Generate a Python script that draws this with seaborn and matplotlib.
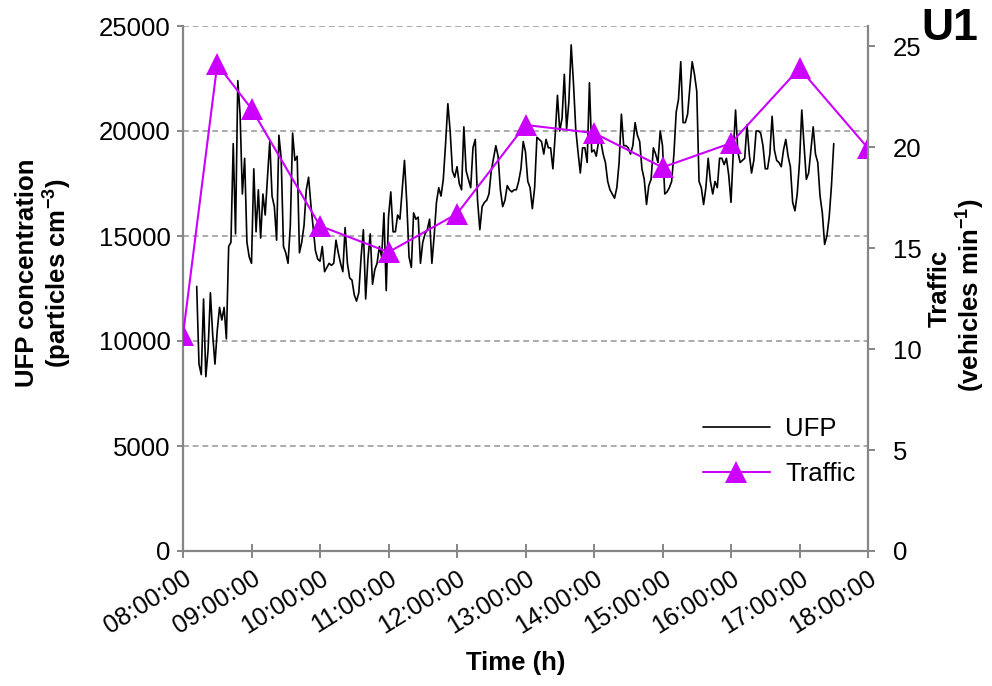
import numpy as np
import pandas as pd
import matplotlib
matplotlib.use('Agg')
import matplotlib.pyplot as plt
import seaborn as sns

sns.set_style('white')
plt.rcParams['font.family'] = ['Liberation Sans', 'DejaVu Sans']
plt.rcParams['mathtext.fontset'] = 'custom'
plt.rcParams['mathtext.rm'] = 'Liberation Sans'
plt.rcParams['mathtext.bf'] = 'Liberation Sans:bold'
plt.rcParams['text.color'] = 'black'
plt.rcParams['xtick.labelcolor'] = 'black'
plt.rcParams['ytick.labelcolor'] = 'black'

# UFP readings every 2 minutes, starting 08:12
ufp_start_min = 12
ufp_step_min = 2
ufp = [
    12600, 8900, 8400, 12000, 8300, 9600, 12300, 10300, 8900, 10500,
    11600, 11000, 11600, 10100, 14500, 14700, 19400, 15100, 22400, 20800,
    17000, 18700, 14700, 14000, 13700, 18200, 15200, 17200, 14900, 17000,
    16000, 17800, 19500, 16900, 16400, 14800, 19800, 18700, 14500, 14200,
    13700, 15500, 19900, 18600, 18800, 14200,
    14700, 15500, 17200, 17800, 16500, 15400, 14300, 13900, 13800, 14500,
    13300, 13500, 13700, 13600, 13700, 14800, 14200, 13700, 13300, 15400,
    13700, 13000, 12900, 12200, 11900, 12300, 14000, 15300, 12000, 13900,
    15100, 12700, 13400, 13700, 14500, 14000, 16100, 12400, 15900, 17100,
    15200, 15200, 16000, 15800, 17200, 18600, 16600, 14000,
    13500, 16100, 15800, 15900, 13700, 14700, 15100, 15300, 15800, 13700,
    15000, 16600, 17300, 16900, 17700, 19400, 21300, 20000, 18100, 17800,
    18300, 17500, 17200, 20200, 18100, 17700, 17300, 19200, 19600, 16700,
    15300, 16400, 16600, 16700, 17000, 18100, 18700, 19300, 18800, 17200,
    16400, 16700, 17400, 17200, 17100, 17200, 17200, 17600,
    18200, 19500, 19000, 17600, 17300, 16300, 17300, 19700, 19600, 19500,
    18900, 19600, 19200, 19200, 18200, 19800, 21700, 20000, 20600, 22700,
    20100, 21400, 24100, 22300, 20100, 19000, 18000, 19200, 19200, 18500,
    22300, 19000, 19100, 18800, 19500, 19500, 18900, 18500, 17600, 17200,
    17000, 16800, 17300, 18500, 20800, 19300, 19300, 19200,
    18900, 19300, 20400, 19800, 19500, 18200, 17700, 16500, 17400, 17700,
    19200, 18900, 18500, 20000, 19300, 17000, 17100, 17300, 17600, 18900,
    20900, 21500, 23300, 20400, 20400, 20800, 22100, 23300, 22700, 21900,
    17600, 17300, 16500, 17300, 18700, 17600, 17000, 17600, 17300, 18700,
    18700, 18400, 18700, 17900, 16600, 19000, 21000, 19000,
    18500, 18600, 18700, 20300, 18900, 18000, 18600, 20000, 20000, 19900,
    19300, 18200, 18200, 18900, 20700, 19100, 18600, 18500, 18300, 19100,
    19600, 18800, 18300, 16600, 16200, 17000, 18500, 21000, 19300, 17700,
    18000, 19100, 20200, 18900, 18500, 16900, 16100, 14600, 15000, 15900,
    17400, 19400,
]

# traffic counts (vehicles per minute)
traffic_min = [0, 30, 60, 120, 180, 240, 300, 360, 420, 480, 540, 600]
traffic = [10.7, 24.1, 21.9, 16.1, 14.8, 16.7, 21.1, 20.7, 19.0, 20.2, 23.9, 19.95]

hour_labels = ['08:00:00', '09:00:00', '10:00:00', '11:00:00', '12:00:00',
               '13:00:00', '14:00:00', '15:00:00', '16:00:00', '17:00:00',
               '18:00:00']

ufp_df = pd.DataFrame({
    'minute': ufp_start_min + ufp_step_min * np.arange(len(ufp)),
    'UFP': ufp,
})
traffic_df = pd.DataFrame({'minute': traffic_min, 'Traffic': traffic})

axis_grey = '#868686'
magenta = '#CC00FF'
fs = 18.5

fig = plt.figure(figsize=(9.92, 6.86), dpi=100)
ax = fig.add_axes([183 / 992, 1 - 551 / 686, 685 / 992, 525 / 686])
ax2 = ax.twinx()

sns.lineplot(data=ufp_df, x='minute', y='UFP', ax=ax, color='black',
             linewidth=1.2, legend=False)
sns.lineplot(data=traffic_df, x='minute', y='Traffic', ax=ax2, color=magenta,
             linewidth=1.5, marker='^', markersize=16, markeredgewidth=0,
             legend=False)

ax.set_xlim(0, 600)
ax.set_ylim(0, 25000)
ax2.set_ylim(0, 26)
ax.set_xticks(np.arange(0, 601, 60))
ax.set_xticklabels(hour_labels, rotation=32, ha='right',
                   rotation_mode='anchor', fontsize=18)
ax.set_yticks(np.arange(0, 25001, 5000))
ax.set_yticklabels([str(v) for v in range(0, 25001, 5000)], fontsize=fs)
ax2.set_yticks(np.arange(0, 26, 5))
ax2.set_yticklabels([str(v) for v in range(0, 26, 5)], fontsize=fs)

ax.yaxis.grid(True, linestyle=(0, (3, 2)), color='#ABABAB', linewidth=1.4)
ax.set_axisbelow(True)

for a in (ax, ax2):
    a.spines['top'].set_visible(False)
    for s in ('left', 'bottom', 'right'):
        a.spines[s].set_color(axis_grey)
        a.spines[s].set_linewidth(1.6)
ax.spines['right'].set_visible(False)
ax2.spines['left'].set_visible(False)
ax2.spines['bottom'].set_visible(False)

ax.tick_params(axis='y', direction='out', length=4, width=1.4, color=axis_grey,
               pad=5, left=True)
ax.tick_params(axis='x', direction='inout', length=10, width=1.4,
               color=axis_grey, pad=6, bottom=True)
ax2.tick_params(axis='y', direction='out', length=5, width=1.4,
                color=axis_grey, pad=13, right=True)

ax.set_xlabel('')
ax.set_ylabel('')
ax2.set_ylabel('')

fig.text(0.5195, 1 - 663 / 686, 'Time (h)', fontsize=fs, fontweight='bold',
         ha='center', va='center')
fig.text(27 / 992, 1 - 273 / 686, 'UFP concentration', fontsize=fs,
         fontweight='bold', rotation=90, ha='center', va='center')
fig.text(57 / 992, 1 - 273 / 686, r'(particles cm$^{\mathbf{-3}}$)',
         fontsize=fs, fontweight='bold', rotation=90, ha='center', va='center')
fig.text(940 / 992, 1 - 288 / 686, 'Traffic', fontsize=fs, fontweight='bold',
         rotation=90, ha='center', va='center')
fig.text(970 / 992, 1 - 295 / 686, r'(vehicles min$^{\mathbf{-1}}$)',
         fontsize=fs, fontweight='bold', rotation=90, ha='center', va='center')
fig.text(950 / 992, 1 - 29 / 686, 'U1', fontsize=32, fontweight='bold',
         ha='center', va='center')

handles = [ax.lines[0], ax2.lines[0]]
ax2.legend(handles, ['UFP', 'Traffic'], loc='upper left',
           bbox_to_anchor=(703 / 992, 1 - 417 / 686),
           bbox_transform=fig.transFigure, frameon=False, fontsize=fs,
           handlelength=2.6, handletextpad=0.6, labelspacing=0.8,
           borderpad=0, borderaxespad=0)

fig.savefig('out.png', dpi=100)
